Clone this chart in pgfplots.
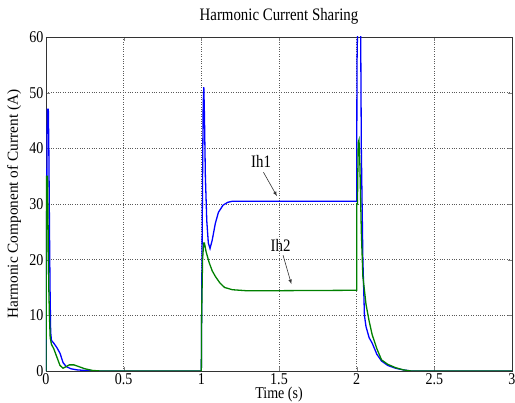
\documentclass[border=0pt]{standalone}
\usepackage{pgfplots}
\pgfplotsset{compat=1.18}
\usepackage{fontspec}
\setmainfont{Liberation Serif}
\newfontfamily\hfont[FakeStretch=0.85]{Liberation Serif}
\newcommand{\hf}{\hfont\fontsize{17.5}{20}\selectfont}
\newcommand{\tf}{\hfont\fontsize{16.5}{19}\selectfont}
\begin{document}
\begin{tikzpicture}
\useasboundingbox (-46pt,-32pt) rectangle (469pt,371pt);
\begin{axis}[
  at={(0,0)}, anchor=south west,
  scale only axis, width=466pt, height=334pt,
  xmin=0, xmax=3, ymin=0, ymax=60,
  xtick={0,0.5,1,1.5,2,2.5,3},
  xticklabels={0,0.5,1,1.5,2,2.5,3},
  ytick={0,10,20,30,40,50,60},
  grid=major,
  major grid style={black!65, dotted, line width=0.6pt},
  tick align=inside, tick pos=both,
  major tick length=4pt,
  axis line style={black!80},
  /pgf/number format/assume math mode=true,
  tick label style={font=\tf},
  xticklabel style={anchor=base, inner sep=0pt, yshift=-14pt},
  yticklabel style={anchor=east, inner sep=0pt, xshift=-2.5pt},
  title={Harmonic Current Sharing},
  title style={font=\hf, at={(axis description cs:0.5,1)}, anchor=base, yshift=10pt},
  xlabel={Time (s)},
  xlabel style={font=\tf, inner sep=0pt, at={(axis description cs:0.5,0)}, anchor=base, yshift=-28pt},
  ylabel={Harmonic Component of Current (A)},
  ylabel style={font=\fontsize{15.3}{18}\selectfont, at={(axis description cs:0,0.5)}, anchor=center, rotate=0, yshift=32pt},
  clip=true,
]
\addplot[blue, line width=1.3pt] coordinates {
(0,0) (0.003,23) (0.008,47) (0.015,47) (0.018,41) (0.022,27) (0.026,15)
(0.03,7) (0.035,5.5) (0.05,5) (0.07,4.2) (0.09,3.2) (0.11,1.5) (0.13,0.8)
(0.16,0.4) (0.2,0.2) (0.25,0.1) (0.3,0.05) (0.35,0) (1.0,0)
(1.003,15) (1.008,35) (1.012,48) (1.016,51) (1.02,46) (1.026,35) (1.035,27)
(1.045,23) (1.056,22) (1.07,23.5) (1.09,26.5) (1.11,28.5) (1.14,29.8)
(1.17,30.3) (1.2,30.5) (2.0,30.5)
(2.002,55) (2.008,65) (2.025,65) (2.03,40) (2.04,20) (2.05,10) (2.06,8)
(2.08,6) (2.1,5) (2.13,3) (2.16,1.8) (2.2,1) (2.25,0.5) (2.3,0.2) (2.35,0) (3,0)
};
\addplot[black!50!green, line width=1.3pt] coordinates {
(0,0) (0.004,35) (0.01,35) (0.014,25) (0.018,15) (0.022,10) (0.027,6)
(0.035,4.8) (0.05,4) (0.07,2.5) (0.09,1) (0.11,0.5) (0.13,0.8) (0.15,1.1)
(0.18,1.1) (0.21,0.8) (0.25,0.4) (0.3,0.1) (0.35,0) (1.0,0)
(1.002,10) (1.008,20) (1.015,23) (1.02,23) (1.03,21.5) (1.05,19.5) (1.07,18)
(1.09,17) (1.12,15.8) (1.15,15) (1.2,14.6) (1.3,14.4) (2.0,14.5)
(2.0,30) (2.005,30) (2.01,41) (2.015,41.5) (2.02,38) (2.03,25) (2.04,17)
(2.06,12) (2.08,9) (2.1,6.5) (2.13,4) (2.16,2) (2.2,1.2) (2.25,0.6)
(2.3,0.2) (2.35,0) (3,0)
};
\node[font=\hf] at (axis cs:1.385,37.6) {Ih1};
\draw[-latex, black!80, line width=0.6pt] (axis cs:1.40,35.7) -- (axis cs:1.487,31.4);
\node[font=\hf] at (axis cs:1.51,22.6) {Ih2};
\draw[-latex, black!80, line width=0.6pt] (axis cs:1.526,20.8) -- (axis cs:1.58,15.6);
\end{axis}
\end{tikzpicture}
\end{document}
